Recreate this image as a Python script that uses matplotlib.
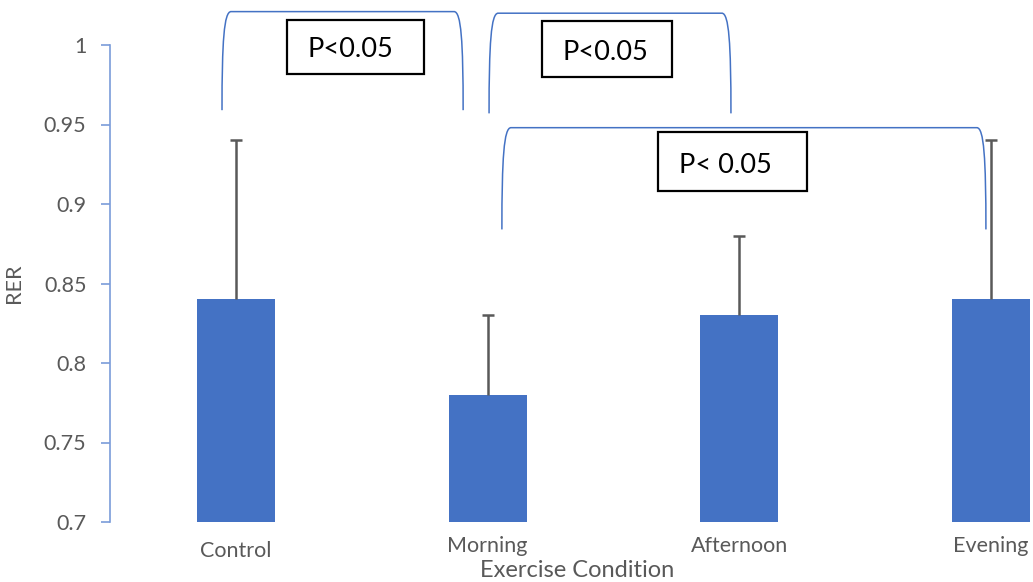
import matplotlib.pyplot as plt
import matplotlib.transforms as mtransforms
from matplotlib.path import Path
from matplotlib.patches import PathPatch, Rectangle

plt.rcParams['font.family'] = ['Lato', 'DejaVu Sans']

# data
conditions = ['Control', 'Morning', 'Afternoon', 'Evening']
rer_mean = [0.84, 0.78, 0.83, 0.84]
rer_sd = [0.10, 0.05, 0.05, 0.10]
y_ticks = [0.7, 0.75, 0.8, 0.85, 0.9, 0.95, 1.0]
y_tick_labels = ['0.7', '0.75', '0.8', '0.85', '0.9', '0.95', '1']

# significance brackets (left x, right x, leg bottom, top) and p-value boxes
brackets = [(-0.055, 0.903, 0.959, 1.021),
            (1.006, 1.967, 0.957, 1.020),
            (1.057, 2.980, 0.884, 0.948)]
boxes = [(0.203, 0.748, 0.982, 1.016, 'P<0.05'),
         (1.216, 1.733, 0.980, 1.015, 'P<0.05'),
         (1.677, 2.269, 0.908, 0.945, 'P< 0.05')]

bar_color = '#4472C4'
grey = '#595959'
axis_blue = '#7A9CD9'

fig = plt.figure(figsize=(10.33, 5.82), dpi=100)
ax = fig.add_axes([110 / 1033, 60 / 582, 923 / 1033, 477 / 582])

x = list(range(len(conditions)))
ax.bar(x, rer_mean, width=0.31, color=bar_color, zorder=2)

# one-sided error bars
tops = [m + s for m, s in zip(rer_mean, rer_sd)]
ax.vlines(x, rer_mean, tops, color=grey, lw=1.8, zorder=3)
ax.plot(x, tops, ls='none', marker='_', ms=8.6, mew=1.8, color=grey, zorder=3)

ax.set_xlim(-0.5, -0.5 + 923 / 251.7)
ax.set_ylim(0.7, 1.0)

for s in ['top', 'right', 'bottom']:
    ax.spines[s].set_visible(False)
ax.spines['left'].set_color(axis_blue)
ax.spines['left'].set_linewidth(1.2)
ax.spines['left'].set_bounds(0.7, 1.0)

ax.set_yticks(y_ticks)
ax.set_yticklabels(y_tick_labels)
ax.tick_params(axis='y', direction='out', length=6.5, width=1.2, color=axis_blue,
               pad=10.5, labelsize=15.5, labelcolor=grey)
ax.set_xticks(x)
ax.set_xticklabels(conditions)
ax.tick_params(axis='x', length=0, pad=10, labelsize=15.5, labelcolor=grey)

# Control label sits a little lower in the original
lab = ax.get_xticklabels()[0]
lab.set_transform(lab.get_transform() +
                  mtransforms.ScaledTranslation(0, -4 / 72, fig.dpi_scale_trans))

ax.set_xlabel('Exercise Condition', fontsize=17, color=grey)
ax.xaxis.set_label_coords(0.506, -0.08)
ax.set_ylabel('RER', fontsize=15.5, color=grey)
ax.yaxis.set_label_coords(-0.093, 0.5)

# brackets
for x0, x1, yb, yt in brackets:
    w = 0.036
    ym = yb + 0.7 * (yt - yb)
    verts = [(x0, yb), (x0, ym), (x0 + 0.008, yt), (x0 + w, yt),
             (x1 - w, yt), (x1 - 0.008, yt), (x1, ym), (x1, yb)]
    codes = [Path.MOVETO, Path.CURVE4, Path.CURVE4, Path.CURVE4,
             Path.LINETO, Path.CURVE4, Path.CURVE4, Path.CURVE4]
    ax.add_patch(PathPatch(Path(verts, codes), fill=False, edgecolor=bar_color,
                           lw=1.1, clip_on=False, zorder=4))

# p-value boxes
for x0, x1, y0, y1, txt in boxes:
    ax.add_patch(Rectangle((x0, y0), x1 - x0, y1 - y0, facecolor='white',
                           edgecolor='black', lw=1.6, clip_on=False, zorder=5))
    ax.text(x0 + 0.083, (y0 + y1) / 2 - 0.002, txt, fontsize=19.5, ha='left',
            va='center', color='black', zorder=6, clip_on=False)

fig.savefig('out.png', dpi=100)
